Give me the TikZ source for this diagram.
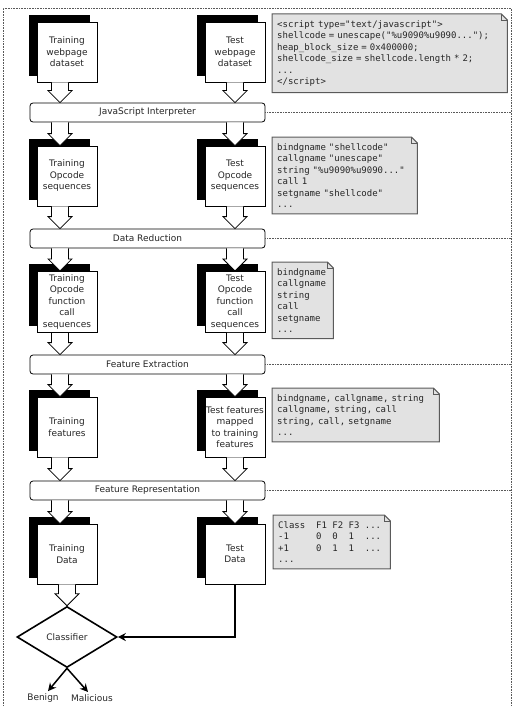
\documentclass[tikz,border=0pt]{standalone}
\usepackage{fontspec}
\setmainfont{DejaVu Sans}
\setmonofont{DejaVu Sans Mono}
\usetikzlibrary{shapes.geometric,shadows,calc,arrows.meta,backgrounds}
\definecolor{notegray}{HTML}{E2E2E2}
\definecolor{noteline}{HTML}{5A5A5A}
\newcommand{\blank}{\hphantom{0}}
\newcommand{\blockarrow}[2]{%
	\filldraw [fill=white, draw=black, line width=0.8pt]
	($(#1)+(-8.5,0)$) --
	($(#2)+(-8.5,12)$) --
	($(#2)+(-12,12)$) --
	(#2) --
	($(#2)+(12,12)$) --
	($(#2)+(8.5,12)$) --
	($(#1)+(8.5,0)$);}
\tikzset{
	databox/.style={draw, fill=white, line width=0.8pt, minimum width=60pt,
		minimum height=60pt, inner xsep=1pt, align=center,
		copy shadow={shadow xshift=-8pt, shadow yshift=7pt, fill=black, draw=black}},
	stage/.style={draw, fill=white, rounded corners=3pt, line width=0.8pt,
		minimum width=235pt, minimum height=19pt, inner sep=0pt},
	codenote/.style={anchor=north west, align=left, inner xsep=5pt, inner ysep=6pt,
		font=\ttfamily\fontsize{9}{11.5}\selectfont},
	notebg/.style={fill=notegray, draw=noteline, line width=1pt},
	sep/.style={densely dotted, black!65, line width=0.6pt},
	flow/.style={line width=1.5pt, -{Stealth[length=8pt, width=8pt]}}
}
\begin{document}
\begin{tikzpicture}[x=1pt, y=1pt, font=\fontsize{9}{11.5}\selectfont, text=black!85]
	\useasboundingbox (0,0) rectangle (518,-706);
	\coordinate (rim) at (511,0);
	\coordinate (colA) at (60,0);
	\draw [sep] (3,-712) -- (3,-8) -- (rim |- 0,-8) -- (511,-712);
	% training column
	\node [databox] (trn1) at (67,-52) {Training\\webpage\\dataset};
	\node [databox] (trn2) at (67,-176) {Training\\Opcode\\sequences};
	\node [databox] (trn3) at (67,-302) {Training\\Opcode\\function\\call\\sequences};
	\node [databox] (trn4) at (67,-427) {Training\\features};
	\node [databox] (trn5) at (67,-554) {Training\\Data};
	% test column
	\node [databox] (tst1) at (235,-52) {Test\\webpage\\dataset};
	\node [databox] (tst2) at (235,-176) {Test\\Opcode\\sequences};
	\node [databox] (tst3) at (235,-302) {Test\\Opcode\\function\\call\\sequences};
	\node [databox] (tst4) at (235,-427) {Test features\\mapped\\to training\\features};
	\node [databox] (tst5) at (235,-554) {Test\\Data};
	% stages
	\node [stage] (band1) at (147.5,-112.5) {JavaScript Interpreter};
	\node [stage] (band2) at (147.5,-238.5) {Data Reduction};
	\node [stage] (band3) at (147.5,-364.5) {Feature Extraction};
	\node [stage] (band4) at (147.5,-490.5) {Feature Representation};
	\foreach \b in {band1,band2,band3,band4}
		\draw [sep] (\b.east) -- (\b.east -| rim);
	% examples
	\node [codenote, text width=225pt] (note1) at (272,-14)
		{<script type="text/javascript">\\
		shellcode = unescape("\%u9090\%u9090...");\\
		heap\_block\_size = 0x400000;\\
		shellcode\_size = shellcode.length * 2;\\
		...\\
		</script>};
	\node [codenote, text width=135pt] (note2) at (272,-137)
		{bindgname "shellcode"\\
		callgname "unescape"\\
		string "\%u9090\%u9090..."\\
		call 1\\
		setgname "shellcode"\\
		...};
	\node [codenote, text width=51pt] (note3) at (272,-262)
		{bindgname\\callgname\\string\\call\\setgname\\...};
	\node [codenote, text width=157pt] (note4) at (272,-388)
		{bindgname, callgname, string\\
		callgname, string, call\\
		string, call, setgname\\
		...};
	\node [codenote, text width=107pt] (note5) at (273,-515)
		{Class\blank\blank F1\blank F2\blank F3\blank...\\
		-1\blank\blank\blank\blank\blank 0\blank\blank 0\blank\blank 1\blank\blank...\\
		+1\blank\blank\blank\blank\blank 0\blank\blank 1\blank\blank 1\blank\blank...\\
		...};
	\begin{scope}[on background layer]
		\foreach \n in {note1,note2,note3,note4,note5} {
			\filldraw [notebg]
			(\n.south west) --
			(\n.north west) --
			([xshift=-6pt]\n.north east) --
			([yshift=-6pt]\n.north east) --
			(\n.south east) --
			cycle;
			\draw [noteline, line width=0.6pt]
			([xshift=-6pt]\n.north east) --
			([xshift=-6pt, yshift=-6pt]\n.north east) --
			([yshift=-6pt]\n.north east);
		}
	\end{scope}
	% hollow arrows
	\blockarrow{trn1.south -| colA}{band1.north -| colA}
	\blockarrow{tst1.south}{band1.north -| tst1}
	\blockarrow{band1.south -| colA}{trn2.north -| colA}
	\blockarrow{band1.south -| tst2}{tst2.north}
	\blockarrow{trn2.south -| colA}{band2.north -| colA}
	\blockarrow{tst2.south}{band2.north -| tst2}
	\blockarrow{band2.south -| colA}{trn3.north -| colA}
	\blockarrow{band2.south -| tst3}{tst3.north}
	\blockarrow{trn3.south -| colA}{band3.north -| colA}
	\blockarrow{tst3.south}{band3.north -| tst3}
	\blockarrow{band3.south -| colA}{trn4.north -| colA}
	\blockarrow{band3.south -| tst4}{tst4.north}
	\blockarrow{trn4.south -| colA}{band4.north -| colA}
	\blockarrow{tst4.south}{band4.north -| tst4}
	\blockarrow{band4.south -| colA}{trn5.north -| colA}
	\blockarrow{band4.south -| tst5}{tst5.north}
	% classification
	\node [shape=diamond, draw, line width=1.6pt, minimum width=100pt,
		minimum height=61pt, inner sep=0pt, aspect=1.64] (cls) at (67,-637) {Classifier};
	\blockarrow{trn5.south}{cls.north}
	\draw [flow] (tst5.south) |- (cls.east);
	\node (benign) at (43,-698) {Benign};
	\node (malicious) at (92,-698) {Malicious};
	\draw [flow] (cls.south) -- ([xshift=5pt, yshift=-1pt]benign.north);
	\draw [flow] (cls.south) -- ([xshift=-4pt, yshift=-1pt]malicious.north);
\end{tikzpicture}
\end{document}
